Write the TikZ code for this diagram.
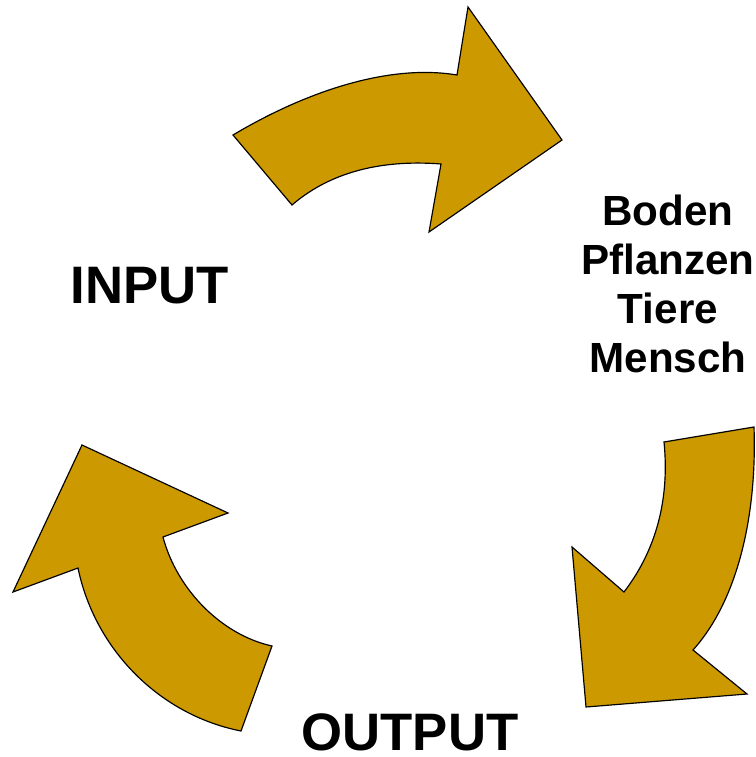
\documentclass[tikz,border=0pt]{standalone}
\usepackage{fontspec}
\setmainfont{Liberation Sans}
\usepackage{xcolor}
\usepackage{tikz}
\definecolor{gold}{HTML}{CC9900}
\tikzset{
  cycleArrow/.style={fill=gold, draw=black, line width=1pt, line join=miter},
  cycleLabel/.style={text=black, font=\bfseries\fontsize{45}{54}\selectfont, inner sep=0pt},
  cycleList/.style={text=black, font=\bfseries\fontsize{36}{41.8}\selectfont, align=center, inner sep=0pt}
}
\begin{document}
\begin{tikzpicture}[x=0.3mm, y=-0.3mm]
  \useasboundingbox (0,0) rectangle (755,757);

  % top arrow
  \draw[cycleArrow] (233,135) .. controls (300,95) and (385,63) .. (457,75)
    -- (468,7) -- (562,140) -- (429,232) -- (441,164)
    .. controls (390,160) and (335,168) .. (292,205) -- cycle;

  % right arrow
  \draw[cycleArrow] (754,427) .. controls (757,515) and (738,600) .. (693,650)
    -- (747,694) -- (586,707) -- (572,547) -- (624,592)
    .. controls (660,545) and (669,492) .. (664,442) -- cycle;

  % left arrow
  \draw[cycleArrow] (241,731) .. controls (160,715) and (95,650) .. (78,568)
    -- (13,592) -- (82,445) -- (228,513) -- (163,537)
    .. controls (177,590) and (222,635) .. (272,646) -- cycle;

  \node[cycleLabel, anchor=base] (input) at (150,303) {INPUT};
  \node[cycleLabel, anchor=base] (output) at (410,750) {OUTPUT};
  \node[cycleList] (system) at (668,284) {Boden\\Pflanzen\\Tiere\\Mensch};
\end{tikzpicture}
\end{document}
